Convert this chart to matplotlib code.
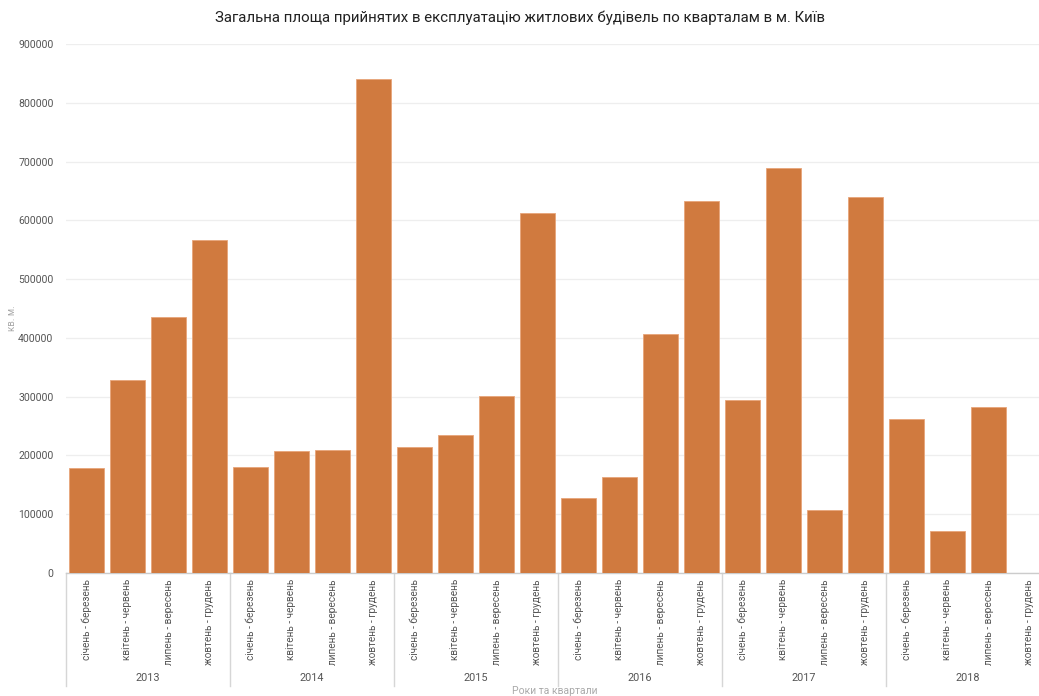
import matplotlib.pyplot as plt
import matplotlib.transforms as mtransforms

plt.rcParams['font.family'] = ['Roboto', 'DejaVu Sans']

years = ['2013', '2014', '2015', '2016', '2017', '2018']
quarters = ['січень - березень', 'квітень - червень', 'липень - вересень', 'жовтень - грудень']
area = [
    179000, 328000, 435000, 566000,
    181000, 208000, 210000, 840000,
    215000, 235000, 301000, 613000,
    128000, 164000, 406000, 633000,
    295000, 689000, 108000, 640000,
    262000, 71000, 282000, 0,
]

bar_color = '#D07A3F'

fig = plt.figure(figsize=(10.39, 6.96), dpi=100)
ax = fig.add_axes([66 / 1039, 123 / 696, 984 / 1039, 529 / 696])

x = list(range(len(area)))
ax.bar(x, area, width=0.87, color=bar_color, edgecolor='#E8A57A', linewidth=0.6, zorder=3)

ax.set_xlim(-0.5, len(area) - 0.5)
ax.set_ylim(0, 900000)
ax.set_yticks(range(0, 900001, 100000))
ax.set_yticklabels([str(v) for v in range(0, 900001, 100000)])
ax.tick_params(axis='y', length=0, labelsize=7.6, labelcolor='#555555', pad=9)
ax.set_xticks([])
ax.grid(axis='y', color='#eeeeee', linewidth=0.9, zorder=0)
for s in ['top', 'right', 'left']:
    ax.spines[s].set_visible(False)
ax.spines['bottom'].set_color('#cccccc')
ax.spines['bottom'].set_linewidth(1.0)

trans = mtransforms.blended_transform_factory(ax.transData, ax.transAxes)
px = 1 / 529  # one pixel in axes height

for i in x:
    ax.text(i, -6 * px, quarters[i % 4], rotation=90, ha='center', va='top',
            fontsize=7.2, color='#555555', transform=trans)

for g, yr in enumerate(years):
    ax.text(g * 4 + 1.5, -105 * px, yr, ha='center', va='center',
            fontsize=7.8, color='#555555', transform=trans)
    xs = g * 4 - 0.5
    ax.plot([xs, xs], [0, -113 * px], color='#d6d6d6', linewidth=1.0,
            transform=trans, clip_on=False)
ax.plot([23.5, 23.5], [0, -113 * px], color='#d6d6d6', linewidth=1.0,
        transform=trans, clip_on=False)

fig.text(555 / 1039, 1 - 691 / 696, 'Роки та квартали', ha='center', va='center',
         fontsize=7.5, color='#aaaaaa')
fig.text(12 / 1039, 1 - 318 / 696, 'кв. м.', rotation=90, ha='center', va='center',
         fontsize=7, color='#aaaaaa')
fig.text(520 / 1039, 1 - 18 / 696,
         'Загальна площа прийнятих в експлуатацію житлових будівель по кварталам в м. Київ',
         ha='center', va='center', fontsize=10.8, color='#222222')

fig.savefig('out.png', dpi=100)
